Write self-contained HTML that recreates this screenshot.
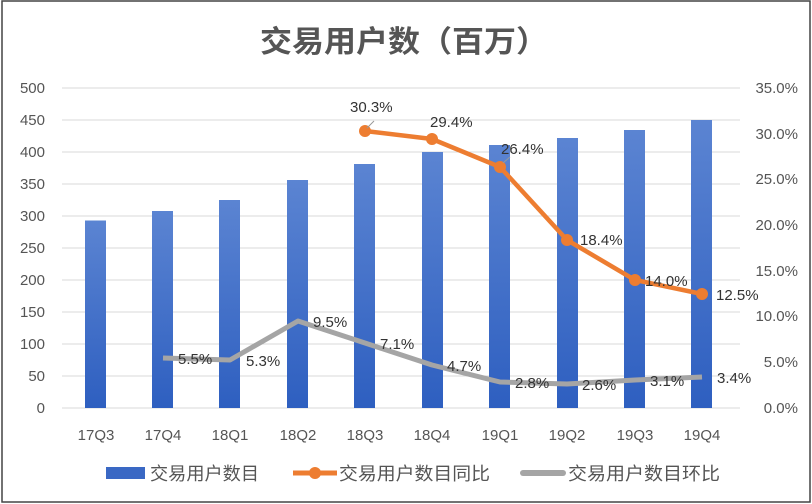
<!DOCTYPE html>
<html><head><meta charset="utf-8"><style>
body{margin:0;background:#fff}
svg{display:block;font-family:"Liberation Sans","Noto Sans CJK SC",sans-serif}
</style></head><body>
<svg width="812" height="504" viewBox="0 0 812 504">
<defs>
<linearGradient id="g" x1="0" y1="0" x2="0" y2="1"><stop offset="0" stop-color="#5b84d2"/><stop offset="1" stop-color="#2e5fc0"/></linearGradient>
</defs>
<rect x="2" y="1" width="808" height="501" fill="#fff" stroke="#444" stroke-width="1.5"/>
<text x="260" y="52" textLength="288" lengthAdjust="spacingAndGlyphs" font-size="30" font-weight="bold" fill="#555">交易用户数（百万）</text>
<g stroke="#d9d9d9" stroke-width="1">
<line x1="62" x2="740" y1="88" y2="88"/><line x1="62" x2="740" y1="120" y2="120"/><line x1="62" x2="740" y1="152" y2="152"/><line x1="62" x2="740" y1="184" y2="184"/><line x1="62" x2="740" y1="216" y2="216"/><line x1="62" x2="740" y1="248" y2="248"/><line x1="62" x2="740" y1="280" y2="280"/><line x1="62" x2="740" y1="312" y2="312"/><line x1="62" x2="740" y1="344" y2="344"/><line x1="62" x2="740" y1="376" y2="376"/><line x1="62" x2="740" y1="408" y2="408"/>
</g>
<g font-size="15" fill="#555" text-anchor="end">
<text x="45" y="93">500</text><text x="45" y="125">450</text><text x="45" y="157">400</text><text x="45" y="189">350</text><text x="45" y="221">300</text><text x="45" y="253">250</text><text x="45" y="285">200</text><text x="45" y="317">150</text><text x="45" y="349">100</text><text x="45" y="381">50</text><text x="45" y="413">0</text>
</g>
<g font-size="15" fill="#555" text-anchor="end">
<text x="798" y="93">35.0%</text><text x="798" y="139">30.0%</text><text x="798" y="184">25.0%</text><text x="798" y="230">20.0%</text><text x="798" y="276">15.0%</text><text x="798" y="321">10.0%</text><text x="798" y="367">5.0%</text><text x="798" y="413">0.0%</text>
</g>
<g fill="url(#g)">
<rect x="85" y="220.5" width="21" height="187.5"/><rect x="152" y="211" width="21" height="197"/><rect x="219" y="200" width="21" height="208"/><rect x="287" y="180" width="21" height="228"/><rect x="354" y="164" width="21" height="244"/><rect x="422" y="152" width="21" height="256"/><rect x="489" y="145" width="21" height="263"/><rect x="557" y="138" width="21" height="270"/><rect x="624" y="130" width="21" height="278"/><rect x="691" y="120" width="21" height="288"/>
</g>
<g font-size="15" fill="#555" text-anchor="middle">
<text x="96" y="440">17Q3</text><text x="163" y="440">17Q4</text><text x="230" y="440">18Q1</text><text x="298" y="440">18Q2</text><text x="365" y="440">18Q3</text><text x="432" y="440">18Q4</text><text x="500" y="440">19Q1</text><text x="567" y="440">19Q2</text><text x="635" y="440">19Q3</text><text x="702" y="440">19Q4</text>
</g>
<polyline points="163,358 230,360 298,321 365,343 432,365 500,382 567,384 635,380 702,377" fill="none" stroke="#a5a5a5" stroke-width="5" stroke-linejoin="round"/>
<polyline points="365,131 432,139 500,167 567,240 635,280 702,294" fill="none" stroke="#ed7d31" stroke-width="4.5" stroke-linejoin="round"/>
<g fill="#ed7d31"><circle cx="365" cy="131" r="6"/><circle cx="432" cy="139" r="6"/><circle cx="500" cy="167" r="6"/><circle cx="567" cy="240" r="6"/><circle cx="635" cy="280" r="6"/><circle cx="702" cy="294" r="6"/></g>
<g stroke="#999" stroke-width="1"><line x1="367" y1="128" x2="374" y2="121"/><line x1="503" y1="163" x2="510" y2="157"/></g>
<g font-size="15" fill="#333">
<text x="350" y="112">30.3%</text><text x="430" y="127">29.4%</text><text x="501" y="154">26.4%</text><text x="580" y="245">18.4%</text><text x="645" y="286">14.0%</text><text x="716" y="300">12.5%</text>
<text x="178" y="364">5.5%</text><text x="246" y="366">5.3%</text><text x="313" y="327">9.5%</text><text x="380" y="349">7.1%</text><text x="447" y="371">4.7%</text><text x="515" y="388">2.8%</text><text x="582" y="390">2.6%</text><text x="650" y="386">3.1%</text><text x="717" y="383">3.4%</text>
</g>
<rect x="106" y="467" width="39" height="12" fill="#3a68c4"/>
<text x="150" y="480" font-size="18" fill="#555" textLength="109" lengthAdjust="spacingAndGlyphs">交易用户数目</text>
<line x1="293" y1="473" x2="337" y2="473" stroke="#ed7d31" stroke-width="5"/><circle cx="315" cy="473" r="6" fill="#ed7d31"/>
<text x="339" y="480" font-size="18" fill="#555" textLength="151" lengthAdjust="spacingAndGlyphs">交易用户数目同比</text>
<line x1="523" y1="473" x2="563" y2="473" stroke="#a5a5a5" stroke-width="6" stroke-linecap="round"/>
<text x="568" y="480" font-size="18" fill="#555" textLength="152" lengthAdjust="spacingAndGlyphs">交易用户数目环比</text>
</svg>
</body></html>
